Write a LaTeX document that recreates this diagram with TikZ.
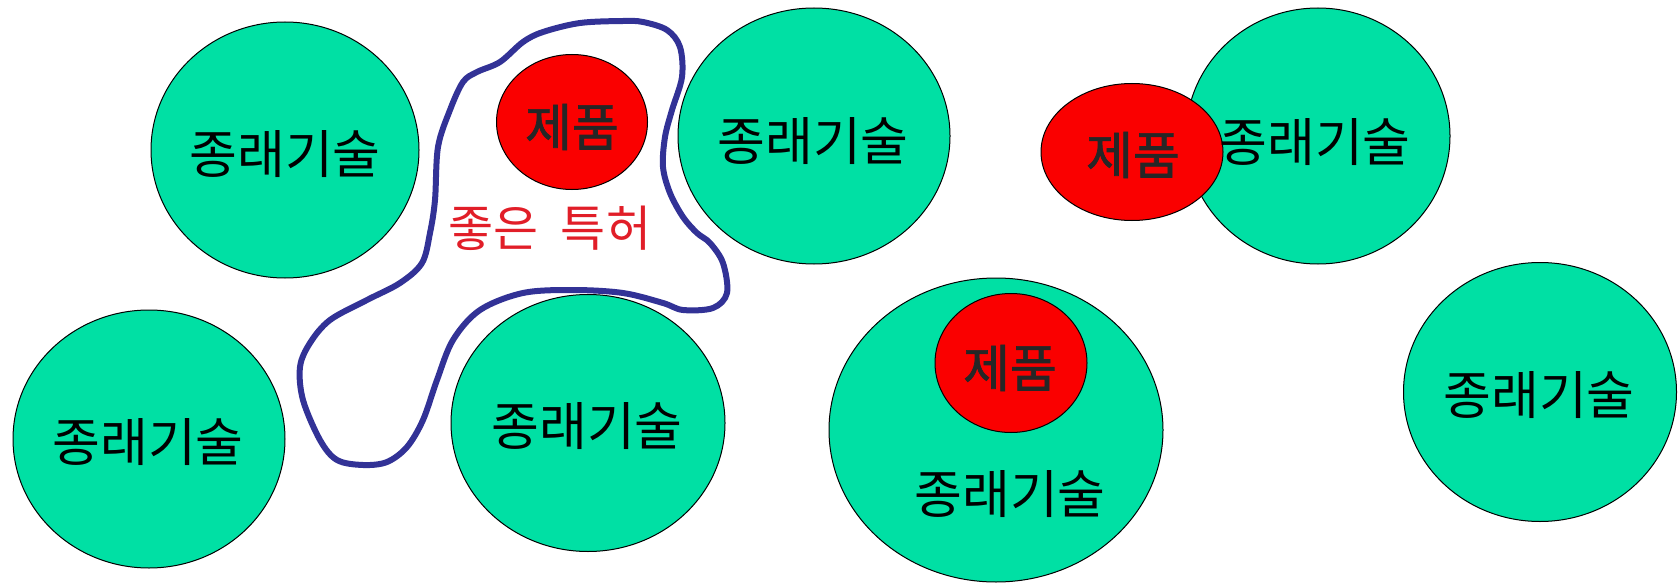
\documentclass[tikz,border=0pt]{standalone}
\usepackage{fontspec}
\newfontfamily\kr{Noto Sans CJK KR}
\newfontfamily\krm[FakeBold=1.3]{Noto Sans CJK KR}
\usetikzlibrary{shapes.geometric}
\definecolor{techgreen}{RGB}{0,224,164}
\definecolor{prodred}{RGB}{250,0,0}
\definecolor{patred}{RGB}{225,30,40}
\definecolor{loopblue}{RGB}{50,50,150}
\tikzset{
  oval/.style={ellipse, draw=black, line width=1pt, inner sep=0pt},
  tech/.style={oval, fill=techgreen},
  prod/.style={oval, fill=prodred},
  label/.style={inner sep=0pt, font=\kr\fontsize{52}{56}\selectfont, text=black},
  prodlabel/.style={label, font=\krm\fontsize{51}{56}\selectfont, text=black!85},
  patlabel/.style={label, font=\kr\fontsize{49}{56}\selectfont, text=patred},
  loopline/.style={draw=loopblue, line width=6pt, line join=round}
}
\begin{document}
\begin{tikzpicture}[x=1pt,y=-1pt]
\useasboundingbox (0,0) rectangle (1679,583);
% green ellipses (prior art)
\node[tech, minimum width=268pt, minimum height=256pt] (e1) at (285,150) {};
\node[tech, minimum width=272pt, minimum height=256pt] (e2) at (814,136) {};
\node[tech, minimum width=264pt, minimum height=256pt] (e3) at (1318,136) {};
\node[tech, minimum width=272pt, minimum height=258pt] (e4) at (149,439) {};
\node[tech, minimum width=274pt, minimum height=257pt] (e5) at (588,423) {};
\node[tech, minimum width=334pt, minimum height=304pt] (e6) at (996,430) {};
\node[tech, minimum width=273pt, minimum height=259pt] (e7) at (1540,392) {};
% red ellipses (product)
\node[prod, minimum width=151pt, minimum height=135pt] (r1) at (572,122) {};
\node[prod, minimum width=182pt, minimum height=137pt] (r2) at (1132,152) {};
\node[prod, minimum width=152pt, minimum height=139pt] (r3) at (1011,363) {};
% blue loop (good patent)
\draw[loopline] plot[smooth cycle, tension=0.55] coordinates {
 (623,21) (580,23) (543,32) (523,42) (500,62) (477,72) (463,82) (450,110)
 (438,147) (435,200) (430,233) (422,263) (400,283) (367,300) (330,320)
 (310,343) (300,367) (303,400) (320,440) (337,460) (363,465) (387,462)
 (407,447) (423,420) (437,380) (453,340) (480,310) (523,293) (573,290)
 (623,293) (663,303) (683,310) (713,308) (727,293) (723,263) (710,243)
 (697,233) (683,217) (670,193) (663,167) (665,137) (672,110) (682,77)
 (680,47) (667,30) (643,22)};
% labels
\node[label] (t1) at (285,154) {종래기술};
\node[label] (t2) at (813,141) {종래기술};
\node[label] (t3) at (1315,142) {종래기술};
\node[label] (t4) at (148,442) {종래기술};
\node[label] (t5) at (587,426) {종래기술};
\node[label] (t6) at (1010,494) {종래기술};
\node[label] (t7) at (1539,395) {종래기술};
\node[prodlabel] (p1) at (572,127) {제품};
\node[prodlabel] (p2) at (1133,155) {제품};
\node[prodlabel] (p3) at (1010,368) {제품};
\node[patlabel] (good) at (550,228) {좋은\hspace{0.45em}특허};
\end{tikzpicture}
\end{document}
